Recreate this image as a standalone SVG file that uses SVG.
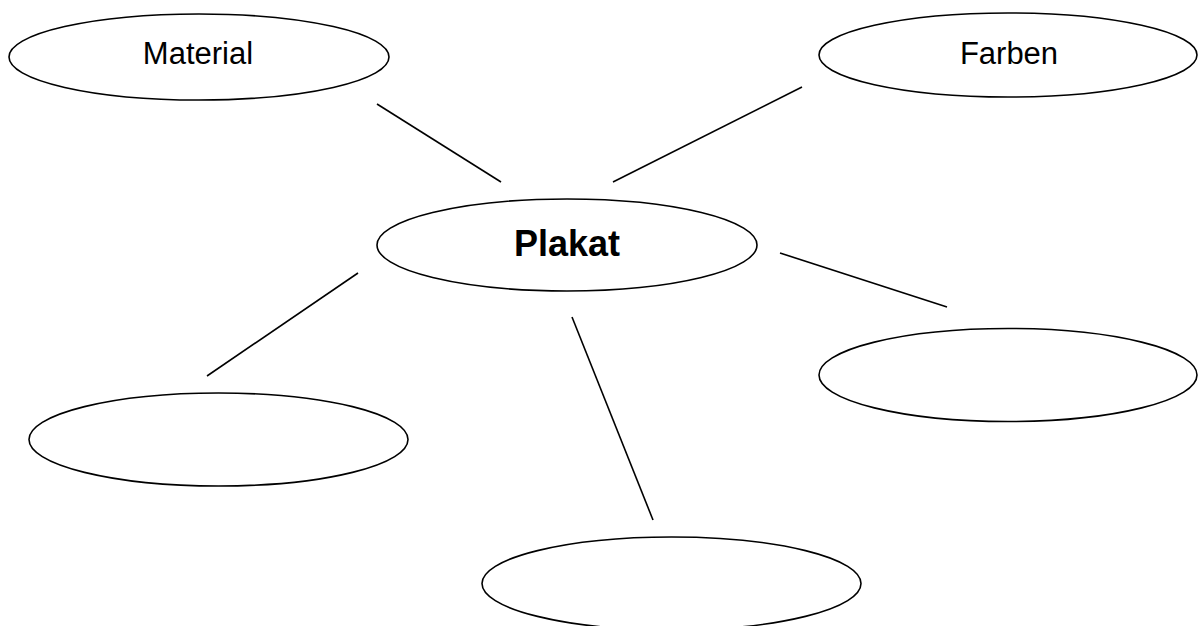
<svg xmlns="http://www.w3.org/2000/svg" width="1198" height="626" viewBox="0 0 1198 626">
<style>
.n{fill:#fff;stroke:#000;stroke-width:1.6}
.c line{stroke:#000;stroke-width:1.6}
.t{font-family:"Liberation Sans",Arial,sans-serif;font-size:31px;fill:#000;text-anchor:middle}
.b{font-size:36px;font-weight:bold}
</style>
<rect width="1198" height="626" fill="#fff"/>
<g class="c" id="connectors">
<line x1="377" y1="104" x2="501" y2="182"/>
<line x1="613" y1="182" x2="802" y2="87"/>
<line x1="780" y1="253" x2="947" y2="307"/>
<line x1="358" y1="273" x2="207" y2="376"/>
<line x1="572" y1="317" x2="653" y2="520"/>
</g>
<g id="material"><ellipse class="n" cx="199" cy="57" rx="190" ry="43"/><text class="t" x="198" y="64">Material</text></g>
<g id="farben"><ellipse class="n" cx="1008" cy="55" rx="189" ry="42"/><text class="t" x="1009" y="64">Farben</text></g>
<g id="plakat"><ellipse class="n" cx="567" cy="245" rx="190" ry="46"/><text class="t b" x="567" y="256">Plakat</text></g>
<g id="right"><ellipse class="n" cx="1008" cy="375" rx="189" ry="46.5"/></g>
<g id="left"><ellipse class="n" cx="218.5" cy="439.5" rx="189.5" ry="46.5"/></g>
<g id="bottom"><ellipse class="n" cx="671.5" cy="583.5" rx="189.5" ry="46.5"/></g>
</svg>
